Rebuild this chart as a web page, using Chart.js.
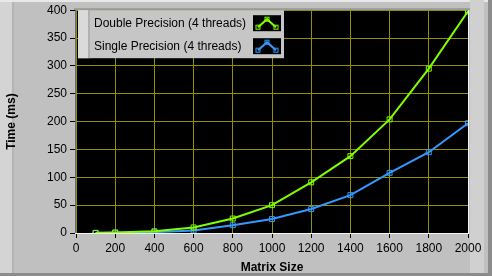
<!DOCTYPE html>
<html>
<head>
<meta charset="utf-8">
<script src="https://cdn.jsdelivr.net/npm/chart.js@4/dist/chart.umd.min.js"></script>
<style>
  html, body { margin: 0; padding: 0; background: #c0c0c0; }
  #wrap { width: 492px; height: 276px; }
</style>
</head>
<body>
<div id="wrap"><canvas id="chart" width="492" height="276"></canvas></div>
<script>
// data
var matrixSize = [100, 200, 400, 600, 800, 1000, 1200, 1400, 1600, 1800, 2000];
var doubleTimes = [0.3, 1, 3, 10, 26, 50, 91, 138, 204, 295, 398];
var singleTimes = [0.1, 0.4, 1.5, 4.5, 14, 25, 43, 68, 108, 145, 197];
var seriesLabels = ['Double Precision (4 threads)', 'Single Precision (4 threads)'];
var seriesColors = ['#7fff00', '#3399ff'];
var xTicks = [0, 200, 400, 600, 800, 1000, 1200, 1400, 1600, 1800, 2000];
var yTicks = [0, 50, 100, 150, 200, 250, 300, 350, 400];

function toPoints(xs, ys) {
  var out = [];
  for (var i = 0; i < xs.length; i++) {
    out.push({x: xs[i], y: ys[i]});
  }
  return out;
}

var FONT = 'Liberation Sans';

// gray panel + bevels behind everything, black plot area
var panelPlugin = {
  id: 'panel',
  beforeDraw: function(chart) {
    var ctx = chart.ctx, a = chart.chartArea;
    var w = chart.width, h = chart.height;
    ctx.save();
    ctx.fillStyle = '#c0c0c0';
    ctx.fillRect(0, 0, w, h);
    // outer bevel
    ctx.fillStyle = '#d4d4d4';
    ctx.fillRect(0, 0, 12, h);
    ctx.fillStyle = '#b4b4b4';
    ctx.fillRect(12, 0, 2, h);
    ctx.fillStyle = '#e8e8e8';
    ctx.fillRect(0, 0, w, 2);
    ctx.fillStyle = '#8c8c8c';
    ctx.fillRect(0, h - 3, w, 3);
    ctx.fillStyle = '#d0d0d0';
    ctx.fillRect(a.right + 2, 0, 14, h - 3);
    ctx.fillStyle = '#8c8c8c';
    ctx.fillRect(w - 4, 0, 4, h);
    // plot frame
    ctx.fillStyle = '#9a9a9a';
    ctx.fillRect(a.left - 2, a.top - 2, a.right - a.left + 4, 2);
    ctx.fillStyle = '#000';
    ctx.fillRect(a.left, a.top, a.right - a.left, a.bottom - a.top);
    ctx.restore();
  },
  afterDatasetsDraw: function(chart) {
    var ctx = chart.ctx, a = chart.chartArea;
    ctx.save();
    ctx.fillStyle = '#6e6e6e';
    ctx.fillRect(a.left - 1, a.top, 1, a.bottom - a.top + 1);
    ctx.fillStyle = '#f4f4f4';
    ctx.fillRect(a.left - 1, a.bottom, a.right - a.left + 2, 1);
    ctx.fillRect(a.right, a.top, 1, a.bottom - a.top + 1);
    ctx.restore();
  }
};

// LabVIEW style plot legend in the top left corner of the plot
var legendPlugin = {
  id: 'lvLegend',
  afterDraw: function(chart) {
    var ctx = chart.ctx, a = chart.chartArea;
    var x0 = a.left + 2, y0 = a.top, bw = 206, bh = 48;
    ctx.save();
    ctx.fillStyle = '#c6c6c6';
    ctx.fillRect(x0, y0, bw, bh);
    ctx.fillStyle = '#dadada';
    ctx.fillRect(x0, y0, 10, bh);
    ctx.fillStyle = '#b0b0b0';
    ctx.fillRect(x0 + 10, y0, 2, bh);
    ctx.font = '12px "' + FONT + '"';
    ctx.textBaseline = 'middle';
    ctx.fillStyle = '#000';
    chart.data.datasets.forEach(function(ds, i) {
      var cy = y0 + 13 + i * 23;
      ctx.fillText(ds.label, x0 + 16, cy);
      var ix = x0 + 175, iy = cy - 8, iw = 28, ih = 16;
      ctx.fillStyle = '#000';
      ctx.fillRect(ix, iy, iw, ih);
      ctx.strokeStyle = ds.borderColor;
      ctx.lineWidth = 2;
      var pts = [[ix + 5, iy + 12], [ix + 14, iy + 4], [ix + 23, iy + 12]];
      ctx.beginPath();
      ctx.moveTo(pts[0][0], pts[0][1]);
      ctx.lineTo(pts[1][0], pts[1][1]);
      ctx.lineTo(pts[2][0], pts[2][1]);
      ctx.stroke();
      ctx.lineWidth = 1;
      pts.forEach(function(p) {
        ctx.strokeRect(p[0] - 2, p[1] - 2, 4, 4);
      });
      ctx.fillStyle = '#000';
    });
    ctx.restore();
  }
};

var config = {
  type: 'line',
  data: {
    datasets: [{
      label: seriesLabels[0],
      data: toPoints(matrixSize, doubleTimes),
      borderColor: seriesColors[0],
      backgroundColor: 'transparent',
      borderWidth: 2,
      pointStyle: 'rect',
      pointRadius: 3.5,
      pointBorderWidth: 1,
      pointBorderColor: seriesColors[0],
      pointBackgroundColor: 'transparent',
      tension: 0
    }, {
      label: seriesLabels[1],
      data: toPoints(matrixSize, singleTimes),
      borderColor: seriesColors[1],
      backgroundColor: 'transparent',
      borderWidth: 2,
      pointStyle: 'rect',
      pointRadius: 3.5,
      pointBorderWidth: 1,
      pointBorderColor: seriesColors[1],
      pointBackgroundColor: 'transparent',
      tension: 0
    }]
  },
  options: {
    responsive: false,
    animation: false,
    layout: { padding: { left: 0, right: 24, top: 10, bottom: 0 } },
    plugins: {
      legend: { display: false },
      tooltip: { enabled: false }
    },
    scales: {
      x: {
        type: 'linear',
        min: 0,
        max: 2000,
        afterBuildTicks: function(scale) {
          scale.ticks = xTicks.map(function(v) { return {value: v}; });
        },
        afterFit: function(scale) { scale.height = 43; },
        grid: { color: '#909000', lineWidth: 1, tickLength: 5, tickColor: '#000' },
        border: { display: false },
        ticks: {
          color: '#000', padding: 3, maxRotation: 0,
          font: { family: FONT, size: 12 },
          callback: function(v) { return String(v); }
        },
        title: { display: true, text: 'Matrix Size', color: '#000', padding: { top: 0, bottom: 1 }, font: { family: FONT, size: 12, weight: 'bold' } }
      },
      y: {
        min: 0,
        max: 400,
        afterBuildTicks: function(scale) {
          scale.ticks = yTicks.map(function(v) { return {value: v}; });
        },
        afterFit: function(scale) { scale.width = 76; },
        grid: { color: '#909000', lineWidth: 1, tickLength: 6, tickColor: '#000' },
        border: { display: false },
        ticks: {
          color: '#000', padding: 3,
          font: { family: FONT, size: 12 },
          callback: function(v) { return String(v); }
        },
        title: { display: true, text: 'Time (ms)', color: '#000', padding: { top: 4, bottom: 0 }, font: { family: FONT, size: 12, weight: 'bold' } }
      }
    }
  },
  plugins: [panelPlugin, legendPlugin]
};

var ctx = document.getElementById('chart').getContext('2d');
window.myChart = new Chart(ctx, config);
</script>
</body>
</html>
